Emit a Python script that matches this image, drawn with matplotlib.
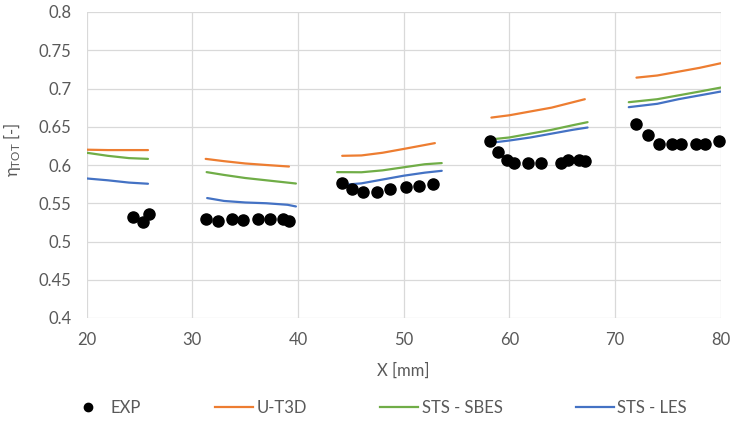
import numpy as np
import matplotlib
matplotlib.use("Agg")
import matplotlib.pyplot as plt
from matplotlib.lines import Line2D

plt.rcParams['font.family'] = ['Lato', 'DejaVu Sans']
plt.rcParams['mathtext.fontset'] = 'custom'
plt.rcParams['mathtext.rm'] = 'Lato'
plt.rcParams['mathtext.default'] = 'regular'

# Experimental total efficiency, one list per measurement plane
exp_x = [
    [24.35, 25.35, 25.92],
    [31.26, 32.45, 33.72, 34.82, 36.18, 37.32, 38.60, 39.14],
    [44.20, 45.07, 46.17, 47.44, 48.70, 50.20, 51.47, 52.79],
    [58.15, 58.88, 59.79, 60.45, 61.78, 62.98, 64.87, 65.56, 66.57, 67.14],
    [72.03, 73.13, 74.17, 75.40, 76.29, 77.70, 78.50, 79.83],
]
exp_y = [
    [0.532, 0.526, 0.536],
    [0.529, 0.527, 0.529, 0.528, 0.529, 0.530, 0.530, 0.527],
    [0.576, 0.569, 0.565, 0.565, 0.569, 0.571, 0.573, 0.575],
    [0.632, 0.617, 0.606, 0.602, 0.602, 0.602, 0.602, 0.606, 0.607, 0.605],
    [0.653, 0.639, 0.628, 0.628, 0.628, 0.628, 0.628, 0.631],
]

# U-T3D
ut3d_x = [
    [20.0, 22.0, 24.0, 25.8],
    [31.26, 33.0, 35.0, 37.0, 39.14],
    [44.18, 46.0, 48.0, 50.0, 52.95],
    [58.3, 60.0, 62.0, 64.0, 67.14],
    [72.03, 74.0, 76.0, 78.0, 80.0],
]
ut3d_y = [
    [0.620, 0.6195, 0.6195, 0.6195],
    [0.608, 0.605, 0.602, 0.600, 0.598],
    [0.612, 0.6125, 0.616, 0.621, 0.6286],
    [0.662, 0.665, 0.670, 0.675, 0.686],
    [0.7142, 0.717, 0.722, 0.727, 0.733],
]

# STS - SBES
sbes_x = [
    [20.0, 22.0, 24.0, 25.8],
    [31.35, 33.0, 35.0, 37.0, 39.8],
    [43.7, 46.0, 48.0, 50.0, 52.0, 53.6],
    [58.47, 60.0, 62.0, 64.0, 66.0, 67.4],
    [71.3, 74.0, 76.0, 78.0, 80.0],
]
sbes_y = [
    [0.6160, 0.612, 0.609, 0.608],
    [0.5907, 0.587, 0.583, 0.580, 0.5758],
    [0.5907, 0.5905, 0.593, 0.597, 0.601, 0.6025],
    [0.6338, 0.636, 0.641, 0.646, 0.652, 0.656],
    [0.6821, 0.686, 0.691, 0.696, 0.7012],
]

# STS - LES
les_x = [
    [20.0, 22.0, 24.0, 25.8],
    [31.4, 33.0, 35.0, 37.0, 39.0, 39.8],
    [44.2, 46.0, 48.0, 50.0, 52.0, 53.6],
    [58.47, 60.0, 62.0, 64.0, 66.0, 67.4],
    [71.3, 74.0, 76.0, 78.0, 80.0],
]
les_y = [
    [0.5824, 0.580, 0.577, 0.5755],
    [0.5568, 0.553, 0.551, 0.550, 0.548, 0.5458],
    [0.574, 0.576, 0.581, 0.586, 0.590, 0.5924],
    [0.6294, 0.632, 0.636, 0.641, 0.646, 0.649],
    [0.6756, 0.680, 0.686, 0.691, 0.696],
]

x_ticks = [20, 30, 40, 50, 60, 70, 80]
y_ticks = [0.4, 0.45, 0.5, 0.55, 0.6, 0.65, 0.7, 0.75, 0.8]

c_ut3d = '#ED7D31'
c_sbes = '#70AD47'
c_les = '#4472C4'
txt = '#595959'

fig = plt.figure(figsize=(7.3, 4.21), dpi=100)
ax = fig.add_axes([86.7 / 730, 1 - 318 / 421, (720.7 - 86.7) / 730, (318 - 12) / 421])

for xs, ys in zip(ut3d_x, ut3d_y):
    ax.plot(xs, ys, color=c_ut3d, lw=1.6, solid_capstyle='round', zorder=3)
for xs, ys in zip(sbes_x, sbes_y):
    ax.plot(xs, ys, color=c_sbes, lw=1.6, solid_capstyle='round', zorder=3)
for xs, ys in zip(les_x, les_y):
    ax.plot(xs, ys, color=c_les, lw=1.6, solid_capstyle='round', zorder=3)
for xs, ys in zip(exp_x, exp_y):
    ax.plot(xs, ys, 'o', color='black', ms=8, zorder=4, clip_on=False)

ax.set_xlim(20, 80)
ax.set_ylim(0.4, 0.8)
ax.set_xticks(x_ticks)
ax.set_yticks(y_ticks)
ax.set_xticklabels([str(v) for v in x_ticks])
ax.set_yticklabels([f'{v:g}' for v in y_ticks])
ax.grid(True, color='#D9D9D9', lw=0.9)
ax.set_axisbelow(True)
for s in ax.spines.values():
    s.set_visible(False)
ax.tick_params(length=0, labelsize=12, colors=txt)
ax.tick_params(axis='x', pad=10)
ax.tick_params(axis='y', pad=11)

ax.set_xlabel('X [mm]', fontsize=12, color=txt)
ax.xaxis.set_label_coords(0.5, -45 / 306)
ax.set_ylabel(r'η$_{\mathregular{TOT}}$ [-]', fontsize=12, color=txt)
ax.yaxis.set_label_coords(-(86.7 - 23) / 634, 0.55)

handles = [
    Line2D([], [], ls='none', marker='o', color='black', ms=6),
    Line2D([], [], color=c_ut3d, lw=1.6),
    Line2D([], [], color=c_sbes, lw=1.6),
    Line2D([], [], color=c_les, lw=1.6),
]
labels = ['EXP', 'U-T3D', 'STS - SBES', 'STS - LES']
leg = fig.legend(handles, labels, loc='center', bbox_to_anchor=(0.518, 1 - 408 / 421), ncol=4,
                 frameon=False, fontsize=12, handlelength=2.3, handletextpad=0.2,
                 columnspacing=4.4)
for t in leg.get_texts():
    t.set_color(txt)

fig.savefig('out.png', dpi=100)
